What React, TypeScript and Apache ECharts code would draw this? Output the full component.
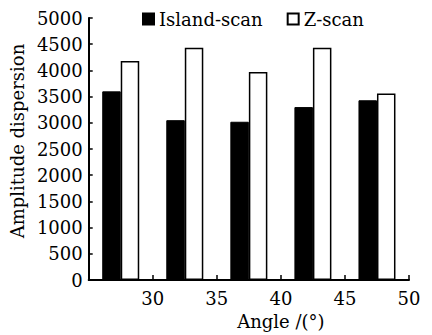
import React, { useEffect, useRef } from "react";
import * as echarts from "echarts";

const categories = ["27.5", "32.5", "37.5", "42.5", "47.5"];
const islandScan = [3600, 3050, 3020, 3300, 3430];
const zScan = [4180, 4430, 3970, 4430, 3560];
const yTicks = { min: 0, max: 5000, interval: 500 };
const xTicks = { min: 25, max: 50, interval: 5 };

const FONT = "DejaVu Serif";
const FS = 18;

export default function App() {
  const ref = useRef<HTMLDivElement>(null);
  useEffect(() => {
    document.body.style.margin = "0";
    const chart = echarts.init(ref.current!, null, { renderer: "svg" });
    chart.setOption({
      animation: false,
      backgroundColor: "#fff",
      textStyle: { fontFamily: FONT, color: "#000" },
      legend: {
        top: 5,
        left: 137,
        itemWidth: 11,
        itemHeight: 11,
        itemGap: 24,
        textStyle: { fontFamily: FONT, fontSize: FS, color: "#000" },
        data: [
          { name: "Island-scan", icon: "rect" },
          { name: "Z-scan", icon: "rect" },
        ],
      },
      grid: { left: 88, right: 23, top: 18, bottom: 53 },
      xAxis: [
        {
          type: "category",
          data: categories,
          boundaryGap: true,
          axisLine: { show: false },
          axisTick: { show: false },
          axisLabel: { show: false },
        },
        {
          type: "value",
          position: "bottom",
          min: xTicks.min,
          max: xTicks.max,
          interval: xTicks.interval,
          name: "Angle /(°)",
          nameLocation: "middle",
          nameGap: 32,
          nameTextStyle: { fontFamily: FONT, fontSize: FS, color: "#000", padding: [0, 0, 0, 64] },
          axisLine: { show: true, lineStyle: { color: "#000", width: 2 } },
          axisTick: { show: true, inside: true, length: 5, lineStyle: { color: "#000", width: 1.5 } },
          axisLabel: {
            fontFamily: FONT,
            fontSize: FS,
            color: "#000",
            margin: 9,
            showMinLabel: false,
            formatter: (v: number) => String(v),
          },
          splitLine: { show: false },
        },
      ],
      yAxis: {
        type: "value",
        min: yTicks.min,
        max: yTicks.max,
        interval: yTicks.interval,
        name: "Amplitude dispersion",
        nameLocation: "middle",
        nameGap: 62,
        nameTextStyle: { fontFamily: FONT, fontSize: FS, color: "#000", padding: [0, 0, 0, 16] },
        axisLine: { show: true, lineStyle: { color: "#000", width: 2 } },
        axisTick: { show: true, inside: true, length: 4, lineStyle: { color: "#000", width: 1.5 } },
        axisLabel: {
          fontFamily: FONT,
          fontSize: FS,
          color: "#000",
          margin: 6,
          formatter: (v: number) => String(v),
        },
        splitLine: { show: false },
      },
      series: [
        {
          name: "Island-scan",
          type: "bar",
          xAxisIndex: 0,
          data: islandScan,
          barWidth: 18.5,
          barGap: "0%",
          itemStyle: { color: "#000", borderColor: "#000", borderWidth: 1 },
        },
        {
          name: "Z-scan",
          type: "bar",
          xAxisIndex: 0,
          data: zScan,
          barWidth: 18.5,
          barGap: "0%",
          itemStyle: { color: "#fff", borderColor: "#000", borderWidth: 1.5 },
        },
      ],
    });
    return () => chart.dispose();
  }, []);
  return <div ref={ref} style={{ width: 432, height: 335 }} />;
}
